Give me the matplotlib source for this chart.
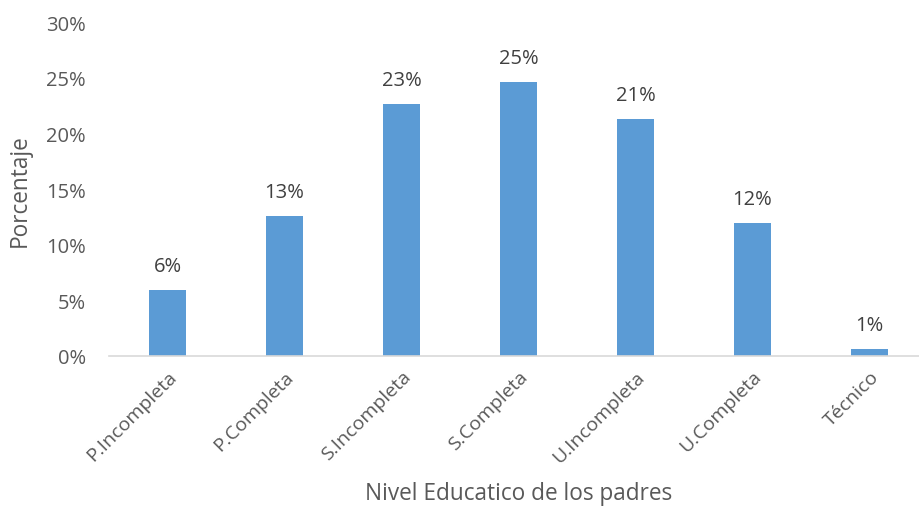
import matplotlib
matplotlib.use("Agg")
import matplotlib.pyplot as plt
from matplotlib.ticker import PercentFormatter

# Nivel educativo de los padres (porcentaje)
niveles = ['P.Incompleta', 'P.Completa', 'S.Incompleta', 'S.Completa',
           'U.Incompleta', 'U.Completa', 'Técnico']
porcentajes = [5.94, 12.63, 22.66, 24.64, 21.29, 11.96, 0.6]
yticks = [0, 5, 10, 15, 20, 25, 30]

plt.rcParams['font.family'] = ['Open Sans', 'DejaVu Sans']

fig = plt.figure(figsize=(9.19, 5.10), dpi=100)
ax = fig.add_axes([109 / 919, 1 - 357 / 510, 819 / 919, 333.6 / 510])

x = range(len(niveles))
bars = ax.bar(x, porcentajes, width=0.32, color='#5B9BD5', zorder=2)

# etiquetas de valor sobre cada barra
for b, v in zip(bars, porcentajes):
    ax.annotate(f'{v:.0f}%', (b.get_x() + b.get_width() / 2, v),
                xytext=(0, 10), textcoords='offset points',
                ha='center', va='bottom', fontsize=14.5, color='#404040')

ax.set_xlim(-0.5, len(niveles) - 0.5)
ax.set_ylim(0, 30)
ax.set_yticks(yticks)
ax.yaxis.set_major_formatter(PercentFormatter(decimals=0))
ax.set_xticks(list(x))
ax.set_xticklabels(niveles, rotation=45, ha='right', rotation_mode='anchor')

ax.tick_params(axis='y', length=0, pad=16.5, labelsize=14.5, labelcolor='#595959')
ax.tick_params(axis='x', length=0, pad=8, labelsize=14, labelcolor='#595959')

for side in ['top', 'right', 'left']:
    ax.spines[side].set_visible(False)
ax.spines['bottom'].set_color('#D9D9D9')
ax.spines['bottom'].set_linewidth(1.2)

ax.set_ylabel('Porcentaje', fontsize=16.3, color='#595959')
ax.yaxis.set_label_coords(-0.094, 0.5)
ax.set_xlabel('Nivel Educatico de los padres', fontsize=16.3, color='#595959')
ax.xaxis.set_label_coords(0.5, -0.375)

fig.savefig('out.png', dpi=100)
